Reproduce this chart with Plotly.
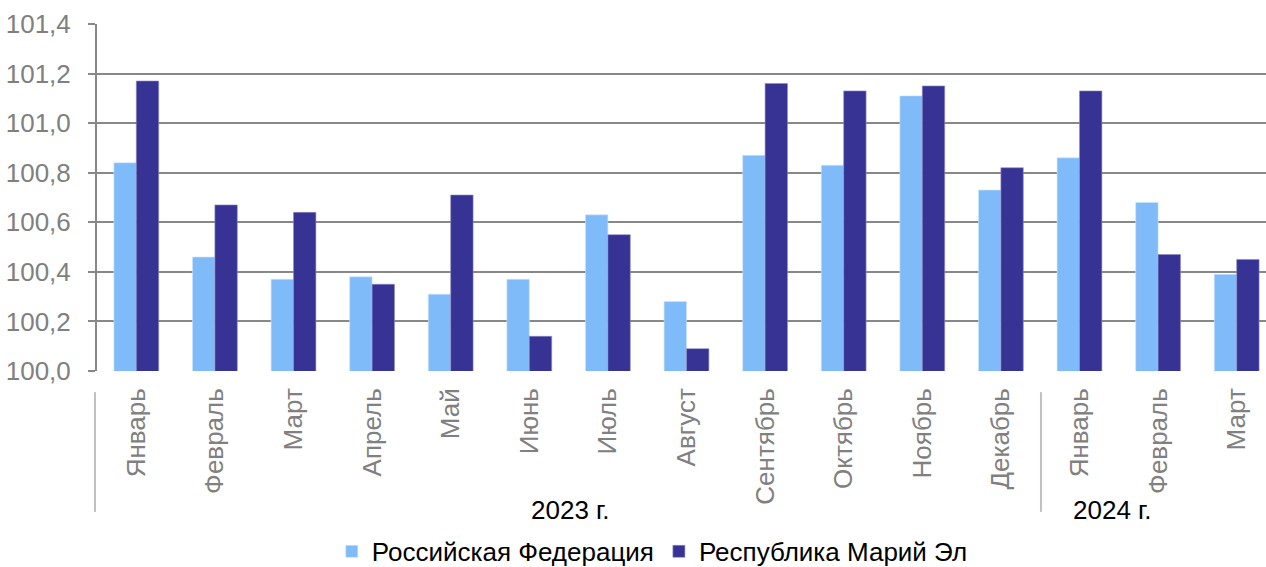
import plotly.graph_objects as go

months = ["Январь", "Февраль", "Март", "Апрель", "Май", "Июнь", "Июль", "Август",
          "Сентябрь", "Октябрь", "Ноябрь", "Декабрь", "Январь", "Февраль", "Март"]
years = ["2023 г.", "2024 г."]
rf = [100.84, 100.46, 100.37, 100.38, 100.31, 100.37, 100.63, 100.28,
      100.87, 100.83, 101.11, 100.73, 100.86, 100.68, 100.39]
me = [101.17, 100.67, 100.64, 100.35, 100.71, 100.14, 100.55, 100.09,
      101.16, 101.13, 101.15, 100.82, 101.13, 100.47, 100.45]
y_ticks = [100.0, 100.2, 100.4, 100.6, 100.8, 101.0, 101.2, 101.4]

idx = list(range(len(months)))
FONT = "Liberation Sans, Arial, sans-serif"
GRAY = "#808080"

fig = go.Figure()
fig.add_trace(go.Bar(x=idx, y=rf, name="Российская Федерация", marker_color="#7FBAF9",
                     marker_line=dict(width=0.6, color="#CFE4FB")))
fig.add_trace(go.Bar(x=idx, y=me, name="Республика Марий Эл", marker_color="#363394",
                     marker_line=dict(width=0.6, color="#8E8CC4")))

# separators between year groups (paper coords so they are not clipped)
for xs in [-0.0017, 0.8075]:
    fig.add_shape(type="line", xref="paper", yref="paper", x0=xs, x1=xs,
                  y0=-0.061, y1=-0.406, line=dict(color="#C0C0C0", width=2))

year_centers = [5.52, 12.42]
for yl, xc in zip(years, year_centers):
    fig.add_annotation(x=xc, y=-0.40, xref="x", yref="paper", text=yl, showarrow=False,
                       font=dict(family=FONT, size=26, color="#000000"), yanchor="middle")

fig.update_layout(
    width=1266, height=567,
    margin=dict(l=97, r=0, t=24, b=196, autoexpand=False),
    plot_bgcolor="white", paper_bgcolor="white",
    barmode="group", bargap=0.43, bargroupgap=0,
    separators=",.",
    showlegend=True,
    legend=dict(orientation="h", x=0.475, xanchor="center", y=-0.52, yanchor="middle",
                font=dict(family=FONT, size=26, color="#000000"), itemwidth=30,
                traceorder="normal", tracegroupgap=0),
    font=dict(family=FONT),
)
fig.update_xaxes(
    tickmode="array", tickvals=idx, ticktext=months, tickangle=-90,
    range=[-0.5, 14.373], showgrid=False, showline=False, zeroline=False,
    tickfont=dict(family=FONT, size=26, color=GRAY), ticklabelstandoff=11,
    automargin=False,
)
fig.update_yaxes(
    range=[100.0, 101.4], tickvals=y_ticks, tickformat=".1f",
    showgrid=True, gridcolor="#888888", gridwidth=2,
    showline=True, linecolor="#888888", linewidth=2,
    ticks="outside", ticklen=7, tickcolor="#888888", tickwidth=2,
    tickfont=dict(family=FONT, size=26, color=GRAY), ticklabelstandoff=12,
    zeroline=False, automargin=False,
)

fig.write_html("out.html", config={"displayModeBar": False},
               post_script="document.body.style.margin='0';document.body.style.padding='0';"
                           "document.body.style.overflow='hidden';")
